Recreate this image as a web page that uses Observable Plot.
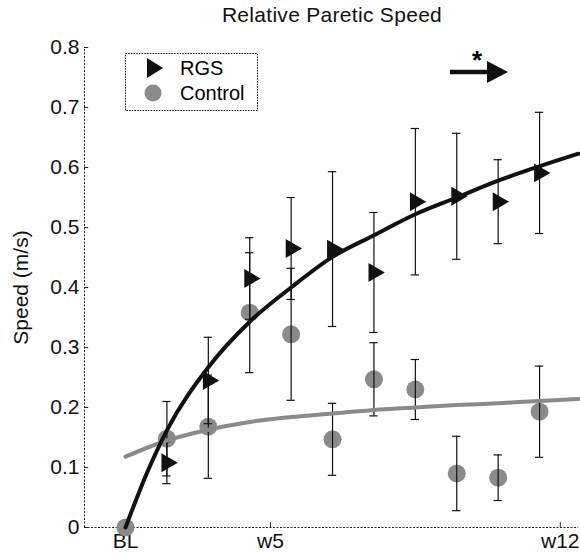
<!DOCTYPE html>
<html><head><meta charset="utf-8">
<script src="https://cdn.jsdelivr.net/npm/d3@7"></script>
<script src="https://cdn.jsdelivr.net/npm/@observablehq/plot@0.6"></script>
<style>
body{margin:0;background:#fff;font-family:"Liberation Sans",Arial,sans-serif;}
#wrap{position:relative;width:580px;height:555px;overflow:hidden;}
#title{height:30px;line-height:30px;text-align:center;font-size:21px;padding-left:84px;width:496px;color:#111;letter-spacing:0.3px;}
#legend{position:absolute;left:125px;top:53px;}
#arrow{position:absolute;left:440px;top:42px;}
</style></head><body>
<div id="wrap">
<div id="title">Relative Paretic Speed</div>
<div id="chart"></div>
<svg id="legend" width="134" height="60">
  <rect x="0.5" y="0.5" width="132" height="57" fill="#fff" stroke="#000" stroke-dasharray="1.5,1.2"/>
  <polygon points="22,5 38,15 22,25" fill="#111"/>
  <circle cx="28" cy="40" r="8.5" fill="#8a8a8a"/>
  <text x="55" y="15" dominant-baseline="central" font-size="20" font-family="Liberation Sans, Arial, sans-serif">RGS</text>
  <text x="55" y="40" dominant-baseline="central" font-size="20" font-family="Liberation Sans, Arial, sans-serif">Control</text>
</svg>
<svg id="arrow" width="80" height="45">
  <line x1="10" y1="30" x2="50" y2="30" stroke="#111" stroke-width="4.5"/>
  <polygon points="47,19 68,30 47,41" fill="#111"/>
  <text x="37" y="27" text-anchor="middle" font-size="26" font-weight="bold" font-family="Liberation Sans, Arial, sans-serif">*</text>
</svg>
</div>
<script>
// Session index (BL = 0, then 10 assessment sessions)
const controlSessions = [0,1,2,3,4,5,6,7,8,9,10];
const controlSpeed = [0,0.148,0.168,0.358,0.322,0.147,0.247,0.23,0.09,0.083,0.193];
const controlErr   = [0,0.062,0.086,0.1,0.11,0.06,0.061,0.05,0.062,0.038,0.076];

const rgsSessions = [1,2,3,4,5,6,7,8,9,10];
const rgsSpeed = [0.108,0.245,0.415,0.465,0.464,0.425,0.543,0.552,0.543,0.591];
const rgsErr   = [0.035,0.072,0.068,0.085,0.129,0.1,0.122,0.105,0.07,0.101];

// Fitted curves
const rgsFitX = [0,0.5,1,2,3,4,5,6,7,8,9,10,10.94];
const rgsFitY = [0,0.088,0.162,0.267,0.343,0.40,0.451,0.487,0.522,0.55,0.578,0.602,0.623];
const controlFitX = [0,1,2,3,4,5,6,7,8,9,10,10.94];
const controlFitY = [0.118,0.145,0.163,0.176,0.184,0.19,0.196,0.2,0.204,0.207,0.211,0.214];

const xTickPositions = [0,3.5,10.5];
const xTickLabels = ["BL","w5","w12"];
const yTicks = [0,0.1,0.2,0.3,0.4,0.5,0.6,0.7,0.8];
const xDomain = [-0.99,10.94];
const yDomain = [0,0.8];

const controlRows = controlSessions.map((s,k)=>({i:s,y:controlSpeed[k],lo:controlSpeed[k]-controlErr[k],hi:controlSpeed[k]+controlErr[k]}));
const controlBars = controlRows.filter((d,k)=>controlErr[k]>0);
const rgsRows = rgsSessions.map((s,k)=>({i:s,y:rgsSpeed[k],lo:rgsSpeed[k]-rgsErr[k],hi:rgsSpeed[k]+rgsErr[k]}));
const rgsFit = rgsFitX.map((x,k)=>({x,y:rgsFitY[k]}));
const controlFit = controlFitX.map((x,k)=>({x,y:controlFitY[k]}));
const capHalf = 0.1;

function bars(rows){
  return [
    Plot.ruleX(rows,{x:"i",y1:"lo",y2:"hi",stroke:"#111",strokeWidth:1.2}),
    Plot.ruleY(rows,{y:"hi",x1:d=>d.i-capHalf,x2:d=>d.i+capHalf,stroke:"#111",strokeWidth:1.2}),
    Plot.ruleY(rows,{y:"lo",x1:d=>d.i-capHalf,x2:d=>d.i+capHalf,stroke:"#111",strokeWidth:1.2})
  ];
}

const chart = Plot.plot({
  width:580, height:525,
  marginTop:17, marginBottom:28, marginLeft:84, marginRight:2,
  style:{fontFamily:"Liberation Sans, Arial, sans-serif", fontSize:"21px", background:"transparent", color:"#111"},
  x:{domain:xDomain},
  y:{domain:yDomain},
  marks:[
    Plot.ruleY([0],{x1:xDomain[0],x2:xDomain[1],stroke:"#222",strokeWidth:1,strokeDasharray:"2,1.5"}),
    Plot.ruleX([xDomain[0]],{y1:yDomain[0],y2:yDomain[1],stroke:"#222",strokeWidth:1,strokeDasharray:"2,1.5"}),
    Plot.ruleY(yTicks,{x1:xDomain[0],x2:xDomain[0]+0.1,stroke:"#222"}),
    Plot.ruleX(xTickPositions,{y1:0,y2:0.008,stroke:"#222"}),
    Plot.axisY(yTicks,{tickSize:0,tickPadding:5,fontSize:21,label:null,tickFormat:d=>d===0?"0":d.toFixed(1)}),
    Plot.axisX(xTickPositions,{tickSize:0,tickPadding:6,fontSize:21,label:null,tickFormat:d=>xTickLabels[xTickPositions.indexOf(d)]}),
    Plot.text(["Speed (m/s)"],{frameAnchor:"left",rotate:-90,dx:-63,textAnchor:"middle",fontSize:21}),
    Plot.dot(controlRows,{x:"i",y:"y",r:9,fill:"#8a8a8a"}),
    Plot.dot(rgsRows,{x:"i",y:"y",r:7,symbol:"triangle",rotate:90,fill:"#111"}),
    ...bars(controlBars),
    ...bars(rgsRows),
    Plot.line(controlFit,{x:"x",y:"y",curve:"monotone-x",stroke:"#8a8a8a",strokeWidth:4}),
    Plot.line(rgsFit,{x:"x",y:"y",curve:"monotone-x",stroke:"#111",strokeWidth:4})
  ]
});
document.getElementById("chart").appendChild(chart);
</script>
</body></html>
